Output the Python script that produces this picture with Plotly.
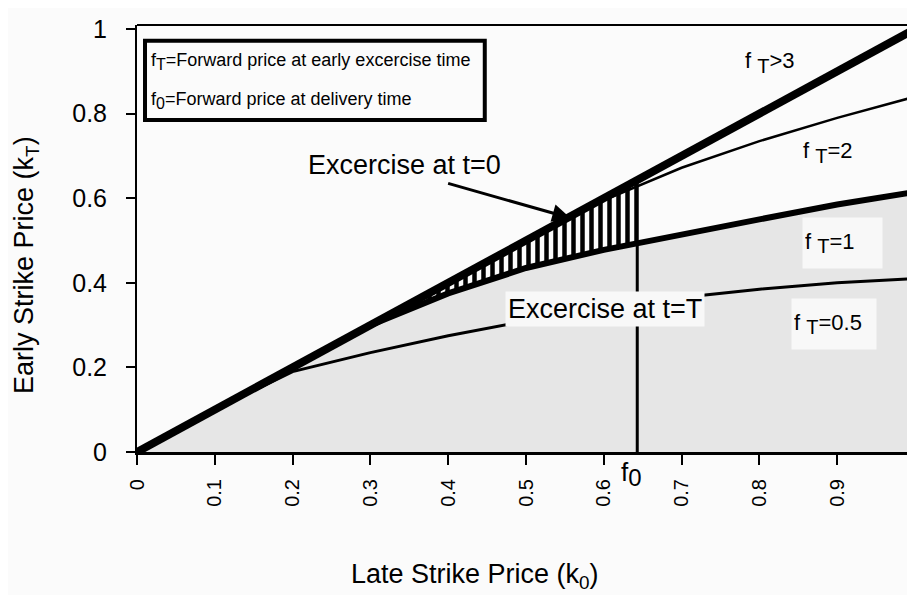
import numpy as np
import plotly.graph_objects as go

# ---- data ----
k0 = [0.0, 0.1, 0.2, 0.3, 0.4, 0.5, 0.6, 0.7, 0.8, 0.9, 1.0]
kT_fT_gt3 = [0.0, 0.1, 0.2, 0.3, 0.4, 0.5, 0.6, 0.7, 0.8, 0.9, 1.0]
kT_fT_2 = [0.0, 0.1, 0.2, 0.3, 0.4, 0.5, 0.595, 0.672, 0.735, 0.79, 0.84]
kT_fT_1 = [0.0, 0.1, 0.2, 0.3, 0.375, 0.435, 0.478, 0.515, 0.55, 0.585, 0.615]
kT_fT_05 = [0.0, 0.1, 0.19, 0.235, 0.275, 0.31, 0.34, 0.365, 0.385, 0.40, 0.41]
f0 = 0.643
hatch_start = 0.3

x_tick_vals = [0, 0.1, 0.2, 0.3, 0.4, 0.5, 0.6, 0.7, 0.8, 0.9, 1.0]
x_tick_text = ["0", "0.1", "0.2", "0.3", "0.4", "0.5", "0.6", "0.7", "0.8", "0.9", "1"]
y_tick_vals = [0, 0.2, 0.4, 0.6, 0.8, 1.0]
y_tick_text = ["0", "0.2", "0.4", "0.6", "0.8", "1"]

FONT = "Liberation Sans, Arial, Helvetica, sans-serif"
BG = "#fbfbfb"
GRAY = "#e6e6e6"

k0a = np.array(k0)
mask = (k0a >= hatch_start) & (k0a < f0)
hx = list(k0a[mask]) + [f0]
h_up = list(np.array(kT_fT_gt3)[mask]) + [float(np.interp(f0, k0, kT_fT_gt3))]
h_lo = list(np.array(kT_fT_1)[mask]) + [float(np.interp(f0, k0, kT_fT_1))]

fig = go.Figure()

fig.add_trace(go.Scatter(x=k0, y=kT_fT_1, mode="lines", line=dict(width=0),
                         fill="tozeroy", fillcolor=GRAY, hoverinfo="skip"))
fig.add_trace(go.Scatter(x=hx + hx[::-1], y=h_up + h_lo[::-1], mode="lines",
                         line=dict(width=0), fill="toself", fillcolor=BG,
                         fillpattern=dict(shape="|", size=9, solidity=0.5,
                                          fgcolor="black", bgcolor=BG, fgopacity=1),
                         hoverinfo="skip"))
fig.add_trace(go.Scatter(x=k0, y=kT_fT_05, mode="lines", line=dict(color="black", width=3)))
fig.add_trace(go.Scatter(x=k0, y=kT_fT_2, mode="lines", line=dict(color="black", width=2.5)))
fig.add_trace(go.Scatter(x=k0, y=kT_fT_1, mode="lines", line=dict(color="black", width=6)))
fig.add_trace(go.Scatter(x=k0, y=kT_fT_gt3, mode="lines", line=dict(color="black", width=8)))
fig.add_trace(go.Scatter(x=[f0, f0], y=[0, float(np.interp(f0, k0, kT_fT_gt3))], mode="lines",
                         line=dict(color="black", width=3)))

SUB = '<sub><span style="font-size:{}px">{}</span></sub>'

def flabel(sub, rest, size, subsize):
    return "f " + SUB.format(subsize, sub) + rest

annotations = [
    dict(x=0.016, y=0.924, xref="x", yref="y", xanchor="left", yanchor="middle",
         text="f" + SUB.format(16, "T") + "=Forward price at early excercise time", showarrow=False,
         font=dict(size=18, color="black", family=FONT)),
    dict(x=0.016, y=0.83, xref="x", yref="y", xanchor="left", yanchor="middle",
         text="f" + SUB.format(16, "0") + "=Forward price at delivery time", showarrow=False,
         font=dict(size=18, color="black", family=FONT)),
    dict(x=0.344, y=0.678, xref="x", yref="y", xanchor="center", yanchor="middle",
         text="Excercise at t=0", showarrow=False,
         font=dict(size=27, color="black", family=FONT)),
    dict(x=0.557, y=0.553, ax=0.398, ay=0.636, xref="x", yref="y", axref="x", ayref="y",
         text="", showarrow=True, arrowhead=2, arrowsize=1.2, arrowwidth=3,
         arrowcolor="black"),
    dict(x=0.601, y=0.338, xref="x", yref="y", xanchor="center", yanchor="middle",
         text="Excercise at t=T", showarrow=False,
         bgcolor="#f8f8f8", borderpad=2,
         font=dict(size=27, color="black", family=FONT)),
    dict(x=0.814, y=0.92, xref="x", yref="y", text=flabel("T", ">3", 22, 20), showarrow=False,
         font=dict(size=22, color="black", family=FONT)),
    dict(x=0.888, y=0.707, xref="x", yref="y", text=flabel("T", "=2", 22, 20), showarrow=False,
         font=dict(size=22, color="black", family=FONT)),
    dict(x=0.907, y=0.494, xref="x", yref="y", text=flabel("T", "=1", 22, 20), showarrow=False,
         bgcolor="#f8f8f8", width=75, height=46, align="left", borderpad=2,
         font=dict(size=22, color="black", family=FONT)),
    dict(x=0.896, y=0.303, xref="x", yref="y", text=flabel("T", "=0.5", 22, 20), showarrow=False,
         bgcolor="#f8f8f8", width=80, height=46, align="left", borderpad=2,
         font=dict(size=22, color="black", family=FONT)),
    dict(x=f0 - 0.008, y=-0.006, xref="x", yref="paper", xanchor="center", yanchor="top",
         text="f" + SUB.format(24, "0"), showarrow=False,
         font=dict(size=26, color="black", family=FONT)),
    dict(x=-0.1427, y=0.438, xref="paper", yref="paper", xanchor="center", yanchor="middle",
         text="Early Strike Price (k<sub>T</sub>)",
         textangle=-90, showarrow=False, font=dict(size=27, color="black", family=FONT)),
    dict(x=0.434, y=-0.29, xref="paper", yref="paper", xanchor="center", yanchor="middle",
         text="Late Strike Price (k<sub>0</sub>)",
         showarrow=False, font=dict(size=27, color="black", family=FONT)),
]

shapes = [
    dict(type="rect", xref="x", yref="y", x0=0.0103, x1=0.447, y0=0.785, y1=0.972,
         line=dict(color="black", width=4), fillcolor=BG, layer="above"),
    dict(type="line", xref="paper", yref="paper", x0=0, x1=1, y0=1, y1=1,
         line=dict(color="black", width=2)),
]

# the page body adds an 8px offset; margins compensate so the plot area sits
# at screen x 137..915, y 25..452
fig.update_layout(
    width=915, height=595,
    margin=dict(l=129, r=8, t=17, b=151, autoexpand=False),
    paper_bgcolor=BG, plot_bgcolor=BG,
    showlegend=False,
    annotations=annotations,
    shapes=shapes,
    font=dict(family=FONT, color="black"),
)
fig.update_xaxes(range=[0, 1.0], tickvals=x_tick_vals, ticktext=x_tick_text,
                 tickangle=-90, ticks="outside", ticklen=10, tickwidth=2, tickcolor="black",
                 showline=True, linecolor="black", linewidth=3, showgrid=False, zeroline=False,
                 tickfont=dict(size=20, family=FONT, color="black"),
                 ticklabelstandoff=6, ticklabeloverflow="allow", automargin=False)
fig.update_yaxes(range=[0, 1.0095], tickvals=y_tick_vals, ticktext=y_tick_text,
                 ticks="outside", ticklen=9, tickwidth=2, tickcolor="black",
                 showline=True, linecolor="black", linewidth=2, showgrid=False, zeroline=False,
                 tickfont=dict(size=25, family=FONT, color="black"),
                 ticklabelstandoff=14, automargin=False)

fig.write_html("out.html")
